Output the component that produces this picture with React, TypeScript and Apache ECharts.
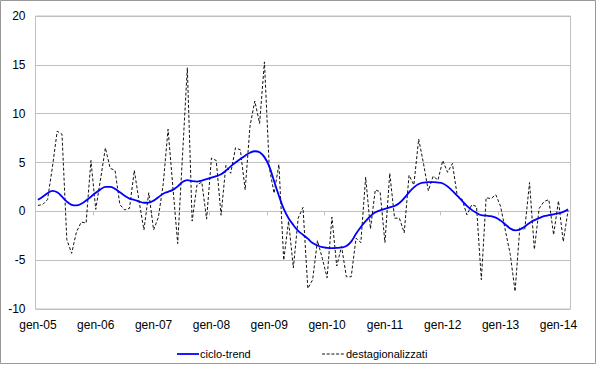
import React, { useEffect, useRef } from "react";
import * as echarts from "echarts";

const monthNames = ["gen", "feb", "mar", "apr", "mag", "giu", "lug", "ago", "set", "ott", "nov", "dic"];
const years = ["05", "06", "07", "08", "09", "10", "11", "12", "13", "14"];
const lastYearMonths = 3; // gen-14 .. mar-14

const categories: string[] = [];
years.forEach((y, yi) => {
  const n = yi === years.length - 1 ? lastYearMonths : 12;
  for (let m = 0; m < n; m++) categories.push(`${monthNames[m]}-${y}`);
});

const seriesNames = ["ciclo-trend", "destagionalizzati"];

const cicloTrend = [
  1.18, 1.5, 1.85, 2.1, 1.95, 1.5, 1.0, 0.67, 0.6, 0.77,
  1.1, 1.5, 1.9, 2.25, 2.5, 2.5, 2.3, 1.95, 1.6, 1.3,
  1.18, 1.0, 0.88, 0.9, 1.1, 1.45, 1.8, 2.0, 2.2, 2.55,
  3.0, 3.2, 3.1, 3.05, 3.15, 3.3, 3.45, 3.6, 3.8, 4.15,
  4.6, 5.0, 5.35, 5.7, 6.0, 6.15, 6.05, 5.55, 4.6, 3.1,
  1.6, 0.25, -0.7, -1.4, -2.0, -2.4, -2.8, -3.25, -3.5, -3.67,
  -3.74, -3.77, -3.75, -3.7, -3.55, -3.1, -2.3, -1.6, -1.0, -0.5,
  -0.1, 0.1, 0.25, 0.4, 0.55, 0.85, 1.35, 1.95, 2.45, 2.8,
  2.95, 3.0, 3.0, 2.95, 2.85, 2.55, 2.1, 1.6, 1.07, 0.56,
  0.15, -0.15, -0.4, -0.45, -0.5, -0.65, -0.95, -1.35, -1.75, -1.95,
  -1.85, -1.55, -1.2, -0.9, -0.7, -0.5, -0.4, -0.3, -0.2, -0.05,
  0.2,
];

const destagionalizzati = [
  0.6, 0.7, 1.2, 4.5, 8.2, 7.9, -2.9, -4.3, -2.1, -1.1,
  -1.2, 5.2, 0.2, 3.3, 6.5, 4.4, 4.2, 0.7, 0.15, 0.3,
  4.2, 1.0, -1.9, 1.9, -1.9, -0.6, 2.8, 8.4, 2.5, -3.3,
  5.7, 14.7, -1.0, 2.7, 3.0, -0.8, 5.45, 5.2, -0.4, 4.7,
  3.9, 6.5, 6.3, 2.2, 8.7, 11.3, 9.0, 15.3, 4.5, 1.85,
  4.8, -5.0, -1.0, -5.8, -0.7, 0.4, -7.9, -7.0, -3.0, -4.8,
  -6.8, -0.6, -5.6, -3.6, -6.7, -6.7, -2.75, -3.2, 3.5, -1.8,
  2.2, 2.0, -3.2, 3.9, -0.7, -0.7, -2.2, 3.7, 2.7, 7.4,
  4.9, 2.1, 3.6, 3.2, 5.2, 4.0, 4.9, 1.6, 1.25, -0.36,
  0.67, 0.5, -7.0, 1.4, 1.3, 1.7, 0.5, -2.0, -4.4, -8.2,
  -1.6, -1.9, 2.95, -3.9, 0.3, 1.0, 1.2, -2.4, 1.07, -3.1,
  0.1,
];

const FONT = "'Liberation Sans', Arial, sans-serif";
const GRID_COLOR = "#c0c0c0";
const BLUE = "#0000ff";
const DASH_COLOR = "#111111";

export default function App() {
  const ref = useRef<HTMLDivElement>(null);
  useEffect(() => {
    if (!ref.current) return;
    const chart = echarts.init(ref.current, null, { renderer: "svg" });
    chart.setOption({
      animation: false,
      backgroundColor: "#ffffff",
      textStyle: { fontFamily: FONT },
      grid: {
        left: 35.5,
        right: 29.5,
        top: 16,
        bottom: 56,
        show: true,
        borderColor: GRID_COLOR,
        borderWidth: 1,
        backgroundColor: "transparent",
      },
      xAxis: [
        {
          type: "category",
          data: categories,
          boundaryGap: true,
          axisLine: { show: false, onZero: false },
          axisTick: { show: false },
          axisLabel: {
            interval: 11,
            margin: 10,
            color: "#000",
            fontSize: 12,
            fontFamily: FONT,
          },
          splitLine: { show: false },
        },
        {
          type: "category",
          data: categories,
          boundaryGap: true,
          position: "bottom",
          axisLine: { show: true, onZero: true, lineStyle: { color: GRID_COLOR, width: 1 } },
          axisTick: { show: true, interval: 11, length: 4, lineStyle: { color: GRID_COLOR } },
          axisLabel: { show: false },
          splitLine: { show: false },
        },
      ],
      yAxis: {
        type: "value",
        min: -10,
        max: 20,
        interval: 5,
        axisLine: { show: false },
        axisTick: { show: false },
        axisLabel: { margin: 10, color: "#000", fontSize: 12, fontFamily: FONT },
        splitLine: { show: true, lineStyle: { color: GRID_COLOR, width: 1 } },
      },
      series: [
        {
          name: seriesNames[1],
          type: "line",
          data: destagionalizzati,
          symbol: "none",
          smooth: false,
          lineStyle: { color: DASH_COLOR, width: 1, type: [3, 2] },
          itemStyle: { color: DASH_COLOR },
          z: 2,
        },
        {
          name: seriesNames[0],
          type: "line",
          data: cicloTrend,
          symbol: "none",
          smooth: 0.4,
          lineStyle: { color: BLUE, width: 1.8 },
          itemStyle: { color: BLUE },
          z: 3,
        },
      ],
      graphic: [
        {
          type: "rect",
          shape: { x: 0.5, y: 0.5, width: 595, height: 363 },
          style: { fill: "none", stroke: "#999999", lineWidth: 1 },
          silent: true,
        },
        {
          type: "line",
          shape: { x1: 177, y1: 354, x2: 199, y2: 354 },
          style: { stroke: BLUE, lineWidth: 1.8 },
          silent: true,
        },
        {
          type: "text",
          x: 200,
          y: 353.5,
          style: {
            text: seriesNames[0],
            fill: "#000",
            font: `11px ${FONT}`,
            textAlign: "left",
            textVerticalAlign: "middle",
          },
          silent: true,
        },
        {
          type: "line",
          shape: { x1: 322, y1: 354, x2: 345, y2: 354 },
          style: { stroke: DASH_COLOR, lineWidth: 1, lineDash: [3, 1.7] },
          silent: true,
        },
        {
          type: "text",
          x: 346,
          y: 353.5,
          style: {
            text: seriesNames[1],
            fill: "#000",
            font: `11px ${FONT}`,
            textAlign: "left",
            textVerticalAlign: "middle",
          },
          silent: true,
        },
      ],
    });
    return () => chart.dispose();
  }, []);
  return (
    <div
      ref={ref}
      style={{ position: "fixed", left: 0, top: 0, width: 600, height: 365 }}
    />
  );
}
